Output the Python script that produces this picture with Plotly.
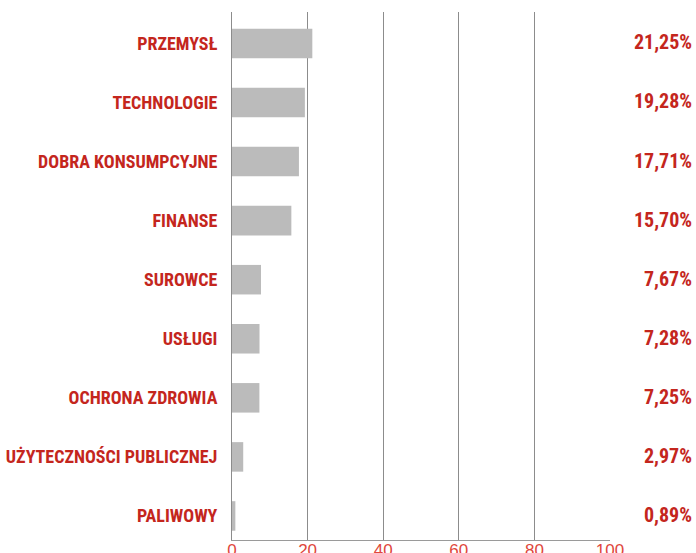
import plotly.graph_objects as go

categories = ["PRZEMYSŁ", "TECHNOLOGIE", "DOBRA KONSUMPCYJNE", "FINANSE", "SUROWCE",
              "USŁUGI", "OCHRONA ZDROWIA", "UŻYTECZNOŚCI PUBLICZNEJ", "PALIWOWY"]
values = [21.25, 19.28, 17.71, 15.70, 7.67, 7.28, 7.25, 2.97, 0.89]
value_labels = ["21,25%", "19,28%", "17,71%", "15,70%", "7,67%", "7,28%", "7,25%", "2,97%", "0,89%"]
x_ticks = [0, 20, 40, 60, 80, 100]

RED = "#c4261d"
FONT = "Roboto Condensed, Open Sans Condensed, sans-serif"

fig = go.Figure(go.Bar(
    x=values, y=categories, orientation="h",
    marker=dict(color="#bbbbbb", line=dict(width=0)),
    hoverinfo="skip",
))

for cat, lab in zip(categories, value_labels):
    fig.add_annotation(
        x=1, xref="paper", y=cat, yref="y", text="<b>" + lab + "</b>",
        xanchor="right", xshift=84, yshift=1, showarrow=False,
        font=dict(family=FONT, size=20, color=RED),
    )

fig.update_layout(
    width=696, height=553,
    margin=dict(l=232, r=86, t=12, b=13),
    paper_bgcolor="white", plot_bgcolor="white",
    bargap=0.5, showlegend=False,
    xaxis=dict(
        range=[0, 100], tickvals=x_ticks, showgrid=True, gridcolor="#8c8c8c", gridwidth=1,
        zeroline=False, showline=True, linecolor="#9a9a9a", linewidth=1,
        ticks="", automargin=False, ticklabelstandoff=-5,
        tickfont=dict(family="Liberation Sans, Arial, sans-serif", size=17, color="#e0473c"),
        fixedrange=True,
    ),
    yaxis=dict(
        categoryorder="array", categoryarray=categories, range=[8.407, -0.532],
        showgrid=False, zeroline=False, showline=True, linecolor="#8c8c8c", linewidth=1,
        ticks="", ticklabelstandoff=10, automargin=False,
        tickfont=dict(family=FONT, size=18, color=RED, weight="bold"),
        fixedrange=True,
    ),
)

fig.write_html(
    "out.html",
    config={"displayModeBar": False},
    post_script="document.body.style.margin='0';document.body.style.overflow='hidden';",
)
